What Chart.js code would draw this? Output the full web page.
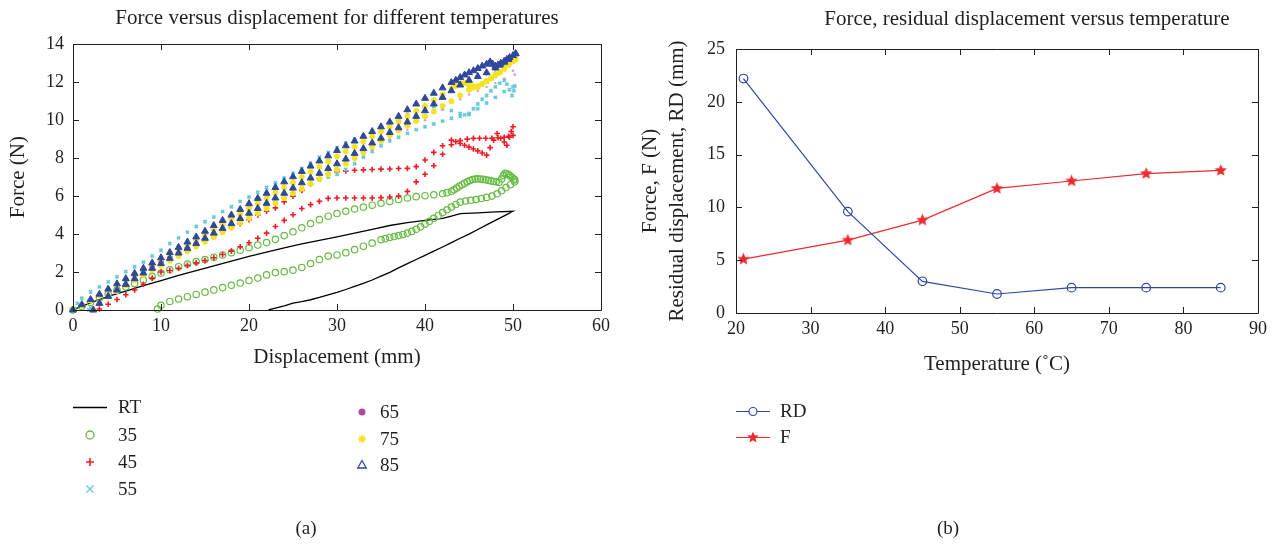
<!DOCTYPE html>
<html>
<head>
<meta charset="utf-8">
<script src="https://cdn.jsdelivr.net/npm/chart.js@4.4.1/dist/chart.umd.min.js"></script>
<style>
  body { margin: 0; width: 1281px; height: 544px; position: relative; overflow: hidden; background: #fff;
         font-family: "Liberation Serif", "DejaVu Serif", serif; color: #231f20; }
  canvas.painel { position: absolute; top: 0; }
  .leg { position: absolute; font-size: 19px; line-height: 20px; white-space: nowrap; }
  .rotulo { position: absolute; font-size: 19px; line-height: 20px; transform: translateX(-50%); }
  .titulo { position: absolute; font-size: 21px; line-height: 24px; white-space: nowrap; transform: translateX(-50%); }
  svg { position: absolute; left: 0; top: 0; }
</style>
</head>
<body>
<canvas id="graficoForca" class="painel" style="left:0" width="640" height="380"></canvas>
<canvas id="graficoTemp" class="painel" style="left:640px" width="641" height="380"></canvas>

<!-- simbolos das legendas -->
<svg width="1281" height="544">
  <line x1="73" y1="407.5" x2="107" y2="407.5" stroke="#000" stroke-width="1.3"/>
  <circle cx="90" cy="435" r="4" fill="none" stroke="#66bb44" stroke-width="1.3"/>
  <path d="M90 458v8M86 462h8" stroke="#ee1c25" stroke-width="1.6"/>
  <path d="M86.5 485.5l7 7M93.5 485.5l-7 7" stroke="#67c9da" stroke-width="1.3"/>
  <circle cx="362" cy="412" r="3.5" fill="#b04b9c"/>
  <path d="M362 435v8M358 439h8M359.2 436.2l5.6 5.6M364.8 436.2l-5.6 5.6" stroke="#f4e41c" stroke-width="1.5"/>
  <path d="M362 460.5l4.3 7.5h-8.6z" fill="none" stroke="#2f479c" stroke-width="1.3"/>
  <line x1="736" y1="411.5" x2="770" y2="411.5" stroke="#3148a0" stroke-width="1.2"/>
  <circle cx="753" cy="411.5" r="4" fill="#fff" stroke="#3148a0" stroke-width="1.2"/>
  <line x1="736" y1="437.5" x2="770" y2="437.5" stroke="#ee2a2f" stroke-width="1.2"/>
  <path id="estrelaLeg" fill="#ee2a2f"/>
</svg>

<div class="titulo" style="left:1027px;top:6px">Force, residual displacement versus temperature</div>
<div class="leg" style="left:118px;top:397px">RT</div>
<div class="leg" style="left:118px;top:425px">35</div>
<div class="leg" style="left:118px;top:452px">45</div>
<div class="leg" style="left:118px;top:479px">55</div>
<div class="leg" style="left:380px;top:402px">65</div>
<div class="leg" style="left:380px;top:429px">75</div>
<div class="leg" style="left:380px;top:455px">85</div>
<div class="leg" style="left:780px;top:401px">RD</div>
<div class="leg" style="left:780px;top:427px">F</div>
<div class="rotulo" style="left:306px;top:518px">(a)</div>
<div class="rotulo" style="left:948px;top:518px">(b)</div>

<script>
// ---------- dados do grafico (a): forca x deslocamento ----------
// cada ramo e uma lista de [deslocamento (mm), forca (N)]

const rtCarga = [[0,0],[1,0.2],[2,0.38],[4,0.72],[6,1.0],[8,1.28],[10,1.55],[12,1.82],[14,2.08],[16,2.33],[18,2.58],[20,2.82],[22,3.05],[24,3.27],[26,3.48],[28,3.67],[30,3.85],[32,4.05],[34,4.25],[36,4.45],[38,4.6],[40,4.72],[42,4.83],[43,4.95],[44,5.08],[46,5.12],[48,5.17],[50,5.2]]
const rtDescarga = [[50,5.2],[49,4.96],[48,4.72],[47,4.48],[46,4.24],[45,4.0],[44,3.78],[43,3.55],[42,3.32],[41,3.1],[40,2.88],[39,2.66],[38,2.44],[37,2.22],[36,1.98],[35,1.78],[34,1.58],[33,1.4],[32,1.24],[31,1.08],[30,0.93],[29,0.8],[28,0.66],[27,0.54],[26,0.44],[25,0.36],[24,0.22],[23,0.1],[22.2,0]]

const c35Carga = [[0,0],[1,0.2],[2,0.4],[3,0.62],[4,0.84],[5,1.05],[6,1.22],[7,1.4],[8,1.58],[9,1.76],[10,1.95],[11,2.12],[12,2.28],[13,2.42],[14,2.55],[15,2.66],[16,2.78],[17,2.9],[18,3.02],[19,3.15],[20,3.28],[21,3.42],[22,3.55],[23,3.72],[24,3.92],[25,4.12],[26,4.33],[27,4.55],[28,4.76],[29,4.94],[30,5.08],[31,5.2],[32,5.32],[33,5.42],[34,5.52],[35,5.62],[36,5.72],[37,5.82],[38,5.9],[39,5.97],[40,6.02],[41,6.07],[42,6.12],[42.5,6.18],[43,6.25],[43.3,6.33],[43.6,6.42],[43.9,6.52],[44.2,6.6],[44.5,6.68],[44.8,6.75],[45.1,6.82],[45.4,6.87],[45.7,6.9],[46,6.91],[46.3,6.9],[46.6,6.88],[46.9,6.86],[47.2,6.83],[47.5,6.8],[47.8,6.77],[48.1,6.75],[48.4,6.72],[48.7,6.9],[48.9,7.08],[49.1,7.2],[49.3,7.18],[49.5,7.13],[49.7,7.06],[49.9,6.98],[50.1,6.9],[50.2,6.85]]
const c35Descarga = [[50.2,6.75],[49.7,6.6],[49.2,6.45],[48.7,6.28],[48.2,6.12],[47.6,6.0],[47,5.93],[46.4,5.87],[45.8,5.82],[45.2,5.78],[44.6,5.74],[44,5.68],[43.5,5.56],[43,5.42],[42.5,5.28],[42,5.13],[41.5,4.98],[41,4.83],[40.5,4.67],[40,4.52],[39.5,4.38],[39,4.25],[38.5,4.14],[38,4.05],[37.5,3.98],[37,3.92],[36.5,3.87],[36,3.82],[35.5,3.76],[35,3.7],[34,3.52],[33,3.36],[32,3.18],[31,3.02],[30,2.9],[29,2.84],[28,2.66],[27,2.45],[26,2.24],[25,2.1],[24,2.02],[23,1.97],[22,1.85],[21,1.68],[20,1.55],[19,1.42],[18,1.3],[17,1.18],[16,1.06],[15,0.94],[14,0.82],[13,0.7],[12,0.58],[11,0.45],[10,0.25],[9.6,0.05]]

const c45Carga = [[0,0],[1,0.25],[2,0.5],[3,0.78],[4,1.05],[5,1.3],[6,1.55],[7,1.8],[8,2.05],[9,2.3],[10,2.55],[11,2.8],[12,3.05],[13,3.28],[14,3.5],[15,3.72],[16,3.95],[17,4.15],[18,4.35],[19,4.55],[20,4.75],[21,5.0],[22,5.2],[23,5.38],[24,5.7],[25,6.0],[26,6.3],[27,6.62],[28,6.95],[29,7.15],[30,7.28],[31,7.33],[32,7.36],[33,7.38],[34,7.4],[35,7.42],[36,7.43],[37,7.45],[38,7.46],[39,7.55],[40,7.9],[41,8.3],[42,8.65],[43,8.95],[43.5,8.86],[44,8.77],[44.5,8.68],[45,8.58],[45.5,8.48],[46,8.38],[46.5,8.27],[47,8.16],[47.4,8.55],[47.8,8.95],[48.2,9.3],[48.6,9.05],[49,8.85],[49.3,8.68],[49.6,9.1],[49.8,9.4],[50,9.65]]
const c45Descarga = [[50,9.2],[49.5,9.15],[49,9.1],[48.3,9.07],[47.6,9.05],[46.9,9.05],[46.2,9.05],[45.5,9.04],[44.8,9.0],[44,8.92],[43,8.7],[42,8.2],[41,7.6],[40,7.15],[39,6.75],[38,6.25],[37,6.0],[36,5.95],[35,5.92],[34,5.9],[33,5.9],[32,5.9],[31,5.9],[30,5.9],[29,5.88],[28,5.72],[27,5.55],[26,5.35],[25,5.02],[24,4.72],[23,4.4],[22,4.05],[21,3.78],[20,3.54],[19,3.33],[18,3.1],[17,2.92],[16,2.75],[15,2.6],[14,2.48],[13,2.35],[12,2.2],[11,2.08],[10,2.0],[9,1.68],[8,1.36],[7,1.05],[6,0.8],[5,0.55],[4,0.3],[3,0.05]]

const c55Carga = [[0,0],[0.5,0.35],[1,0.62],[2,0.95],[3,1.22],[4,1.48],[5,1.75],[6,2.02],[7,2.28],[8,2.52],[9,2.85],[10,3.15],[11,3.5],[12,3.8],[13,4.1],[14,4.4],[15,4.65],[16,4.9],[17,5.18],[18,5.44],[19,5.72],[20,5.95],[21,6.2],[22,6.45],[23,6.7],[24,6.95],[25,7.2],[26,7.45],[27,7.75],[28,8.05],[29,8.3],[30,8.55],[31,8.8],[32,9.0],[33,9.2],[34,9.4],[35,9.6],[36,9.8],[37,10.0],[38,10.25],[39,10.5],[40,10.7],[41,10.72],[42,10.62],[43,10.5],[44,10.35],[44.5,10.28],[45,10.3],[45.5,10.6],[46,10.85],[46.5,11.1],[47,11.3],[47.5,11.55],[48,11.75],[48.5,11.95],[49,12.1],[49.3,11.9],[49.6,11.6],[49.9,11.3],[50.1,11.55],[50.2,11.8]]
const c55Descarga = [[50,11.75],[49,11.5],[48,11.2],[47,10.9],[46,10.6],[45,10.35],[44,10.2],[43,10.1],[42,9.95],[41,9.8],[40,9.65],[39,9.5],[38,9.3],[37,9.1],[36,8.9],[35,8.65],[34,8.35],[33,8.05],[32,7.7],[31,7.4],[30,7.15],[29,7.0],[28,6.85],[27,6.65],[26,6.4],[25,6.15],[24,5.9],[23,5.65],[22,5.4],[21,5.15],[20,4.9],[19,4.65],[18,4.4],[17,4.15],[16,3.9],[15,3.65],[14,3.4],[13,3.15],[12,2.9],[11,2.65],[10,2.4],[9,2.15],[8,1.9],[7,1.65],[6,1.4],[5,1.1],[4,0.8],[3,0.45],[2,0.1],[1.8,0]]

const c65Carga = [[0,0],[2,0.55],[4,1.12],[6,1.68],[8,2.25],[10,2.8],[12,3.35],[14,3.92],[16,4.5],[18,5.05],[20,5.62],[22,6.2],[24,6.78],[26,7.32],[28,7.88],[30,8.42],[32,8.9],[34,9.38],[36,9.85],[38,10.35],[40,10.85],[42,11.35],[44,11.8],[45,12.0],[46,12.2],[47,12.4],[48,12.6],[49,12.85],[49.5,12.95],[50,12.6],[50.2,12.4]]
const c65Descarga = [[50.2,12.4],[49,12.2],[48,11.95],[47,11.75],[46,11.55],[45,11.35],[44,11.1],[42,10.55],[40,10.0],[38,9.5],[36,9.0],[34,8.45],[32,7.9],[30,7.35],[28,6.85],[26,6.35],[24,5.85],[22,5.35],[20,4.85],[18,4.35],[16,3.85],[14,3.35],[12,2.85],[10,2.35],[8,1.85],[6,1.3],[4,0.75],[2.3,0]]

const c75Carga = [[0,0],[1,0.25],[2,0.5],[3,0.78],[4,1.05],[5,1.32],[6,1.6],[7,1.85],[8,2.1],[9,2.38],[10,2.65],[11,2.9],[12,3.15],[13,3.42],[14,3.7],[15,3.98],[16,4.25],[17,4.52],[18,4.8],[19,5.08],[20,5.35],[21,5.62],[22,5.9],[23,6.18],[24,6.45],[25,6.72],[26,7.0],[27,7.28],[28,7.55],[29,7.82],[30,8.1],[31,8.35],[32,8.6],[33,8.88],[34,9.15],[35,9.4],[36,9.65],[37,9.92],[38,10.2],[39,10.48],[40,10.75],[41,11.05],[42,11.35],[43,11.65],[43.5,11.8],[44,11.95],[44.5,11.95],[45,11.85],[45.5,11.78],[46,11.75],[46.5,11.9],[47,12.05],[47.5,12.2],[48,12.4],[48.5,12.55],[49,12.75],[49.5,12.95],[50,13.1],[50.3,13.2]]
const c75Descarga = [[50.3,13.2],[49.5,12.9],[49,12.7],[48.5,12.5],[48,12.35],[47.5,12.2],[47,12.05],[46.5,11.9],[46,11.8],[45.5,11.72],[45,11.6],[44,11.3],[43,11.0],[42,10.75],[41,10.45],[40,10.2],[39,9.95],[38,9.7],[37,9.45],[36,9.2],[35,8.9],[34,8.6],[33,8.3],[32,8.0],[31,7.7],[30,7.4],[29,7.15],[28,6.9],[27,6.65],[26,6.4],[25,6.15],[24,5.9],[23,5.62],[22,5.35],[21,5.1],[20,4.85],[19,4.6],[18,4.35],[17,4.1],[16,3.85],[15,3.6],[14,3.35],[13,3.1],[12,2.85],[11,2.6],[10,2.35],[9,2.1],[8,1.85],[7,1.58],[6,1.3],[5,1.0],[4,0.7],[3,0.35],[2.3,0]]

const c85Carga = [[0,0],[1,0.28],[2,0.55],[3,0.83],[4,1.1],[5,1.38],[6,1.65],[7,1.93],[8,2.2],[9,2.48],[10,2.75],[11,3.03],[12,3.3],[13,3.58],[14,3.85],[15,4.15],[16,4.45],[17,4.72],[18,5.0],[19,5.3],[20,5.6],[21,5.88],[22,6.15],[23,6.45],[24,6.75],[25,7.02],[26,7.3],[27,7.58],[28,7.85],[29,8.12],[30,8.4],[31,8.65],[32,8.9],[33,9.15],[34,9.4],[35,9.65],[36,9.9],[37,10.2],[38,10.55],[39,10.85],[40,11.15],[41,11.42],[42,11.7],[43,11.98],[43.5,12.1],[44,12.25],[44.5,12.38],[45,12.5],[45.5,12.6],[46,12.72],[46.5,12.85],[47,12.95],[47.4,13.07],[47.7,12.95],[48,12.85],[48.3,12.9],[48.6,13.0],[49,13.1],[49.3,13.2],[49.6,13.3],[50,13.4],[50.3,13.5]]
const c85Descarga = [[50.3,13.5],[49.5,13.2],[49,13.05],[48.5,12.9],[48,12.75],[47,12.5],[46,12.3],[45,12.1],[44,11.85],[43,11.55],[42,11.2],[41,10.85],[40,10.5],[39,10.2],[38,9.9],[37,9.6],[36,9.35],[35,9.05],[34,8.8],[33,8.5],[32,8.25],[31,7.95],[30,7.7],[29,7.45],[28,7.2],[27,6.95],[26,6.7],[25,6.42],[24,6.15],[23,5.9],[22,5.62],[21,5.35],[20,5.1],[19,4.82],[18,4.55],[17,4.3],[16,4.05],[15,3.78],[14,3.5],[13,3.25],[12,3.0],[11,2.72],[10,2.45],[9,2.2],[8,1.95],[7,1.65],[6,1.35],[5,1.05],[4,0.72],[3,0.35],[2.3,0]]

// ---------- dados do grafico (b): temperatura ----------
const temperaturas = [21, 35, 45, 55, 65, 75, 85]
const deslocResidual = [22.2, 9.6, 3.0, 1.8, 2.4, 2.4, 2.4]
const forcaMax = [5.1, 6.9, 8.8, 11.8, 12.5, 13.2, 13.5]

const corTexto = '#231f20'
Chart.defaults.font.family = '"Liberation Serif", "DejaVu Serif", serif'
Chart.defaults.color = corTexto
Chart.defaults.animation = false

// junta carga e descarga num unico caminho
function caminho(carga, descarga) {
  return carga.concat(descarga).map(([x, y]) => ({ x: x, y: y }))
}

// moldura fechada com tracinhos para dentro (estilo matlab)
const moldura = {
  id: 'moldura',
  afterDraw(chart) {
    const { ctx, chartArea: a, scales } = chart
    const tam = 6
    ctx.save()
    ctx.strokeStyle = corTexto
    ctx.lineWidth = 1
    ctx.beginPath()
    ctx.rect(Math.round(a.left) + 0.5, Math.round(a.top) + 0.5, Math.round(a.right - a.left), Math.round(a.bottom - a.top))
    scales.x.ticks.forEach(t => {
      const px = Math.round(scales.x.getPixelForValue(t.value)) + 0.5
      ctx.moveTo(px, a.bottom); ctx.lineTo(px, a.bottom - tam)
      ctx.moveTo(px, a.top); ctx.lineTo(px, a.top + tam)
    })
    scales.y.ticks.forEach(t => {
      const py = Math.round(scales.y.getPixelForValue(t.value)) + 0.5
      ctx.moveTo(a.left, py); ctx.lineTo(a.left + tam, py)
      ctx.moveTo(a.right, py); ctx.lineTo(a.right - tam, py)
    })
    ctx.stroke()
    ctx.restore()
  }
}

function eixo(min, max, passo, titulo, extra) {
  return Object.assign({
    type: 'linear', min: min, max: max,
    grid: { display: false, drawTicks: false },
    border: { display: false },
    ticks: { stepSize: passo, font: { size: 18 }, color: corTexto },
    title: { display: true, text: titulo, font: { size: 21 }, color: corTexto }
  }, extra)
}

// pontos espalhados (sem linha)
function serie(dados, cor, estilo, raio, borda, ordem) {
  return {
    data: dados, showLine: false, order: ordem, clip: false,
    pointStyle: estilo, pointRadius: raio, pointBorderWidth: borda,
    pointBorderColor: cor, pointBackgroundColor: estilo === 'circle' && raio > 2 ? 'rgba(0,0,0,0)' : cor
  }
}

const graficoForca = new Chart(document.getElementById('graficoForca'), {
  type: 'scatter',
  data: {
    datasets: [
      { data: caminho(rtCarga, rtDescarga), showLine: true, borderColor: '#000', borderWidth: 1.3, pointRadius: 0, order: 6 },
      serie(caminho(c35Carga, c35Descarga), '#66bb44', 'circle', 3.2, 1.2, 5),
      serie(caminho(c45Carga, c45Descarga), '#ee1c25', 'cross', 2.8, 1.6, 4),
      serie(caminho(c55Carga, c55Descarga), '#67c9da', 'crossRot', 2.2, 1.8, 3),
      serie(caminho(c65Carga, c65Descarga), '#dc96d4', 'circle', 1.2, 0, 2),
      serie(caminho(c75Carga, c75Descarga), '#f4e41c', 'star', 3, 1.8, 1),
      serie(caminho(c85Carga, c85Descarga), '#2f479c', 'triangle', 4, 1, 0)
    ]
  },
  options: {
    responsive: false,
    devicePixelRatio: 1,
    layout: { padding: { left: 0, right: 39, top: 0, bottom: 0 } },
    plugins: {
      legend: { display: false },
      tooltip: { enabled: false },
      title: {
        display: true, fullSize: false,
        text: 'Force versus displacement for different temperatures',
        font: { size: 21, weight: 'normal' }, color: corTexto,
        padding: { top: 6, bottom: 13 }
      }
    },
    scales: {
      x: eixo(0, 60, 10, 'Displacement (mm)', {
        afterFit: s => { s.height = 70 }
      }),
      y: eixo(0, 14, 2, 'Force (N)', {
        afterFit: s => { s.width = 73 }
      })
    }
  },
  plugins: [moldura]
})
graficoForca.options.scales.x.ticks.padding = 5
graficoForca.options.scales.x.title.padding = { top: 0, bottom: 10 }
graficoForca.options.scales.y.ticks.padding = 9
graficoForca.options.scales.y.title.padding = { top: 6, bottom: 0 }
graficoForca.update()

// estrela de cinco pontas para a serie F
function criaEstrela(raio, cor) {
  const c = document.createElement('canvas')
  const tam = raio * 2 + 2
  c.width = tam
  c.height = tam
  const ctx = c.getContext('2d')
  ctx.beginPath()
  for (let i = 0; i < 10; i++) {
    const r = i % 2 === 0 ? raio : raio * 0.45
    const ang = -Math.PI / 2 + i * Math.PI / 5
    ctx.lineTo(tam / 2 + r * Math.cos(ang), tam / 2 + r * Math.sin(ang))
  }
  ctx.closePath()
  ctx.fillStyle = cor
  ctx.fill()
  return c
}
const estrela = criaEstrela(6.5, '#ee2a2f')

// mesma estrela na legenda
const pts = []
for (let i = 0; i < 10; i++) {
  const r = i % 2 === 0 ? 6 : 2.7
  const ang = -Math.PI / 2 + i * Math.PI / 5
  pts.push((753 + r * Math.cos(ang)).toFixed(1) + ',' + (437.5 + r * Math.sin(ang)).toFixed(1))
}
document.getElementById('estrelaLeg').setAttribute('d', 'M' + pts.join('L') + 'Z')

const graficoTemp = new Chart(document.getElementById('graficoTemp'), {
  type: 'scatter',
  data: {
    datasets: [
      {
        label: 'RD',
        data: temperaturas.map((t, i) => ({ x: t, y: deslocResidual[i] })),
        showLine: true, borderColor: '#3148a0', borderWidth: 1.2, clip: false,
        pointStyle: 'circle', pointRadius: 4.3, pointBorderWidth: 1.2,
        pointBorderColor: '#3148a0', pointBackgroundColor: 'rgba(0,0,0,0)'
      },
      {
        label: 'F',
        data: temperaturas.map((t, i) => ({ x: t, y: forcaMax[i] })),
        showLine: true, borderColor: '#ee2a2f', borderWidth: 1.2, clip: false,
        pointStyle: estrela, pointRadius: 6
      }
    ]
  },
  options: {
    responsive: false,
    devicePixelRatio: 1,
    // titulo fica num div: no original ele nao esta centrado no grafico
    layout: { padding: { left: 0, right: 23, top: 49, bottom: 0 } },
    plugins: {
      legend: { display: false },
      tooltip: { enabled: false }
    },
    scales: {
      x: eixo(20, 90, 10, 'Temperature (˚C)', {
        afterFit: s => { s.height = 67 }
      }),
      y: eixo(0, 25, 5, ['Force, F (N)', 'Residual displacement, RD (mm)'], {
        afterFit: s => { s.width = 96 }
      })
    }
  },
  plugins: [moldura]
})
graficoTemp.options.scales.x.ticks.padding = 5
graficoTemp.options.scales.x.title.padding = { top: 0, bottom: 3 }
graficoTemp.options.scales.y.ticks.padding = 11
graficoTemp.options.scales.y.title.padding = { top: -3, bottom: 0 }
graficoTemp.options.scales.y.title.font = { size: 21, lineHeight: 1.3 }
graficoTemp.update()
</script>
</body>
</html>
